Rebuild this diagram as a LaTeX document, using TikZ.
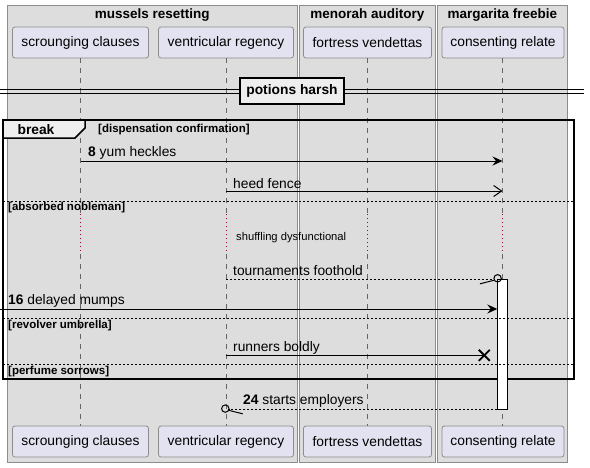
\documentclass[tikz,border=0pt]{standalone}
\usepackage{fontspec}
\setmainfont{Liberation Sans}
\usetikzlibrary{arrows.meta,calc}
\definecolor{lanefill}{HTML}{DDDDDD}
\definecolor{laneline}{HTML}{8C8C8C}
\definecolor{partfill}{HTML}{E2E2F0}
\definecolor{partline}{HTML}{8C8C8C}
\definecolor{lifecol}{HTML}{666666}
\definecolor{delayred}{HTML}{A80036}
\definecolor{tabfill}{HTML}{EEEEEE}
\begin{document}
\begin{tikzpicture}[x=1pt,y=-1pt,
  lane/.style={draw=laneline, fill=lanefill, line width=0.8pt},
  part/.style={draw=partline, fill=partfill, rounded corners=2.5pt, line width=0.8pt,
    minimum height=31pt, inner sep=0pt, font=\fontsize{13.8}{16}\selectfont},
  lanetitle/.style={font=\bfseries\fontsize{13.5}{16}\selectfont, inner sep=0pt},
  life/.style={draw=lifecol, dash pattern=on 5pt off 5pt, line width=0.8pt},
  delayline/.style={draw=delayred, dash pattern=on 1pt off 3pt, line width=0.9pt},
  msg/.style={draw=black, line width=1pt},
  rmsg/.style={msg, dash pattern=on 2pt off 2pt},
  fullhead/.style={-{Stealth[length=10pt,width=9pt,inset=3.5pt]}},
  openhead/.style={-{Straight Barb[length=8pt,width=11pt]}},
  lbl/.style={anchor=west, inner sep=0pt, font=\fontsize{13.8}{16}\selectfont},
  cond/.style={anchor=west, inner sep=0pt, font=\bfseries\fontsize{11.5}{13}\selectfont},
  delaytext/.style={anchor=west, inner sep=0pt, font=\fontsize{11.2}{13}\selectfont},
  sepline/.style={draw=black, line width=0.8pt, dash pattern=on 2pt off 2pt},
  framebox/.style={draw=black, line width=1.5pt},
  dividerbox/.style={draw=black, fill=tabfill, line width=1.5pt, minimum width=104pt,
    minimum height=26pt, inner sep=0pt, font=\bfseries\fontsize{13.8}{16}\selectfont},
  activation/.style={draw=black, fill=white, line width=0.8pt},
]
\useasboundingbox (0,0) rectangle (590,467);
\fill[white] (0,0) rectangle (590,467);

% lanes
\draw[lane] (7.3,5) rectangle (297.3,462);
\draw[lane] (299,5) rectangle (435.7,462);
\draw[lane] (437.3,5) rectangle (567.7,462);
\node[lanetitle] (t1) at (152.3,15.5) {mussels resetting};
\node[lanetitle] (t2) at (367.3,15.5) {menorah auditory};
\node[lanetitle] (t3) at (502.5,15.5) {margarita freebie};

% participants
\node[part, minimum width=136pt] (sc) at (80.5,42.5) {scrounging clauses};
\node[part, minimum width=135pt] (vr) at (226,42.5) {ventricular regency};
\node[part, minimum width=128pt] (fv) at (367.5,42.5) {fortress vendettas};
\node[part, minimum width=122pt] (cr) at (503,42.5) {consenting relate};
\node[part, minimum width=136pt] (scb) at (80.5,441.5) {scrounging clauses};
\node[part, minimum width=135pt] (vrb) at (226,441.5) {ventricular regency};
\node[part, minimum width=128pt] (fvb) at (367.5,441.5) {fortress vendettas};
\node[part, minimum width=122pt] (crb) at (503,441.5) {consenting relate};

% lifeline coordinates
\coordinate (a0) at (80.7,58);  \coordinate (a1) at (80.7,214); \coordinate (a2) at (80.7,254); \coordinate (a3) at (80.7,426);
\coordinate (b0) at (226,58);   \coordinate (b1) at (226,214);  \coordinate (b2) at (226,254);  \coordinate (b3) at (226,426);
\coordinate (c0) at (367.7,58); \coordinate (c1) at (367.7,214);\coordinate (c2) at (367.7,254);\coordinate (c3) at (367.7,426);
\coordinate (d0) at (502.5,58); \coordinate (d1) at (502.5,214);\coordinate (d2) at (502.5,254);\coordinate (d3) at (502.5,426);
\foreach \p in {a,b,c,d}{
  \draw[life] (\p0) -- (\p1);
  \draw[delayline] (\p1) -- (\p2);
  \draw[life] (\p2) -- (\p3);
}

% divider
\draw[line width=0.9pt] (0,89.5) -- (584,89.5);
\draw[line width=0.9pt] (0,93.3) -- (584,93.3);
\node[dividerbox] (div) at (292,91) {potions harsh};

% break frame
\draw[framebox] (3,120) rectangle (574,379);
\draw[framebox, fill=tabfill] (3,120) -- (85,120) -- (85,128) -- (75,138) -- (3,138) -- cycle;
\node[inner sep=0pt, font=\bfseries\fontsize{13.8}{16}\selectfont] (brk) at (36,129.5) {break};
\node[cond] (c1t) at (98,130) {[dispensation confirmation]};

% activation bar
\draw[activation] (497.3,279.3) rectangle (507.5,409);

% message 1
\coordinate (m1a) at (80.7,161); \coordinate (m1b) at (502.5,161);
\draw[msg, fullhead] (m1a) -- (m1b);
\node[lbl] (l1) at (88,152.5) {\textbf{8} yum heckles};

% message 2
\coordinate (m2a) at (226,191); \coordinate (m2b) at (502.5,191);
\draw[msg, openhead] (m2a) -- (m2b);
\node[lbl] (l2) at (233,183.5) {heed fence};

% separator 1
\coordinate (s1a) at (3,201); \coordinate (s1b) at (574,201);
\draw[sepline] (s1a) -- (s1b);
\node[cond] (c2t) at (8,208) {[absorbed nobleman]};

% delay
\node[delaytext] (dly) at (236,237.5) {shuffling dysfunctional};

% message 5
\coordinate (m5a) at (226,279); \coordinate (m5o) at (497.6,278.3);
\coordinate (m5b) at (493.8,279); \coordinate (m5h1) at (494.3,280.2); \coordinate (m5h2) at (480,283.8);
\draw[rmsg] (m5a) -- (m5b);
\draw[line width=1pt] (m5o) circle (3.7pt);
\draw[line width=1pt] (m5h1) -- (m5h2);
\node[lbl] (l5) at (233,270.5) {tournaments foothold};

% message 6
\coordinate (m6a) at (0,309); \coordinate (m6b) at (497.3,309);
\draw[msg, fullhead] (m6a) -- (m6b);
\node[lbl] (l6) at (8,300.5) {\textbf{16} delayed mumps};

% separator 2
\coordinate (s2a) at (3,318); \coordinate (s2b) at (574,318);
\draw[sepline] (s2a) -- (s2b);
\node[cond] (c3t) at (8,326) {[revolver umbrella]};

% message 8
\coordinate (m8a) at (226,355.3); \coordinate (m8b) at (484.3,355.3);
\coordinate (x1) at (478.8,349.8); \coordinate (x2) at (489.8,360.8);
\coordinate (x3) at (478.8,360.8); \coordinate (x4) at (489.8,349.8);
\draw[msg] (m8a) -- (m8b);
\draw[line width=1.8pt] (x1) -- (x2);
\draw[line width=1.8pt] (x3) -- (x4);
\node[lbl] (l8) at (233,347.5) {runners boldly};

% separator 3
\coordinate (s3a) at (3,364); \coordinate (s3b) at (574,364);
\draw[sepline] (s3a) -- (s3b);
\node[cond] (c4t) at (8,372) {[perfume sorrows]};

% message 11
\coordinate (m11a) at (497.3,409); \coordinate (m11o) at (225.3,408.6);
\coordinate (m11b) at (229,409); \coordinate (m11h1) at (228.6,410.3); \coordinate (m11h2) at (242.7,413.8);
\draw[rmsg] (m11a) -- (m11b);
\draw[line width=1pt] (m11o) circle (3.7pt);
\draw[line width=1pt] (m11h1) -- (m11h2);
\node[lbl] (l11) at (243,400.5) {\textbf{24} starts employers};
\end{tikzpicture}
\end{document}
